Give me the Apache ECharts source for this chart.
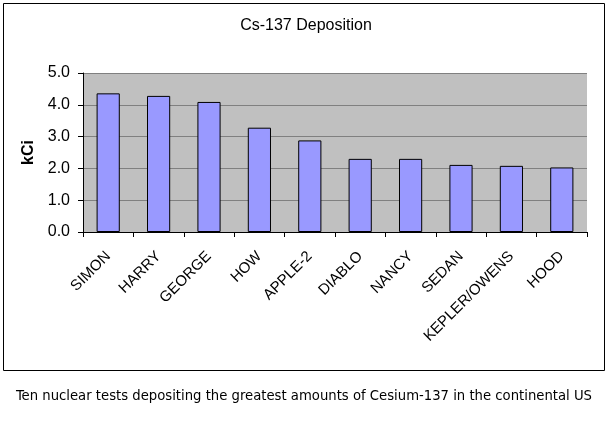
<!DOCTYPE html>
<html><head><meta charset="utf-8">
<script src="https://cdn.jsdelivr.net/npm/echarts@6/dist/echarts.min.js"></script>
<style>html,body{margin:0;padding:0;background:#fff}#c{width:610px;height:427px}</style>
</head><body><div id="c"></div>
<script>
const categories = ['SIMON','HARRY','GEORGE','HOW','APPLE-2','DIABLO','NANCY','SEDAN','KEPLER/OWENS','HOOD'];
const values = [4.36, 4.28, 4.09, 3.28, 2.88, 2.30, 2.30, 2.11, 2.08, 2.03];
const yTicks = [0, 1, 2, 3, 4, 5];

const chart = echarts.init(document.getElementById('c'), null, {renderer:'canvas'});
chart.setOption({
  animation:false,
  backgroundColor:'#fff',
  title:[{
    text:'Cs-137 Deposition', left:301, textAlign:'center', top:13,
    textStyle:{fontFamily:'Liberation Sans, Arial', fontSize:16, fontWeight:'normal', color:'#000'}
  },{
    text:'Ten nuclear tests depositing the greatest amounts of Cesium-137 in the continental US',
    left:299, textAlign:'center', top:384,
    textStyle:{fontFamily:'DejaVu Sans Condensed, Tahoma', fontSize:14.7, fontWeight:'normal', color:'#000'}
  }],
  graphic:[{
    type:'rect', z:-10, shape:{x:3.5,y:3.5,width:601,height:367},
    style:{fill:'#fff', stroke:'#000', lineWidth:1}
  }],
  grid:{left:83, right:23, top:73, bottom:195, show:true, backgroundColor:'#C0C0C0', borderWidth:0},
  xAxis:{
    type:'category', data:categories,
    axisLine:{lineStyle:{color:'#000'}},
    axisTick:{show:true, length:5, lineStyle:{color:'#000'}},
    axisLabel:{rotate:45, interval:0, margin:22, fontFamily:'Liberation Sans, Arial', fontSize:15, color:'#000'}
  },
  yAxis:{
    type:'value', min:0, max:5, interval:1,
    name:'kCi', nameLocation:'middle', nameGap:45, nameRotate:90,
    nameTextStyle:{fontFamily:'Liberation Sans, Arial', fontSize:16, fontWeight:'bold', color:'#000'},
    axisLine:{show:true, lineStyle:{color:'#000'}},
    axisTick:{show:true, length:5, lineStyle:{color:'#000'}},
    axisLabel:{formatter:v=>yTicks.includes(v)?v.toFixed(1):'', fontFamily:'Liberation Sans, Arial', fontSize:16, color:'#000', margin:13},
    splitLine:{show:true, lineStyle:{color:'#808080', width:1}}
  },
  series:[{
    type:'bar', data:values, barWidth:'46%',
    itemStyle:{color:'#9999FF', borderColor:'#000', borderWidth:1}
  }]
});
</script></body></html>
